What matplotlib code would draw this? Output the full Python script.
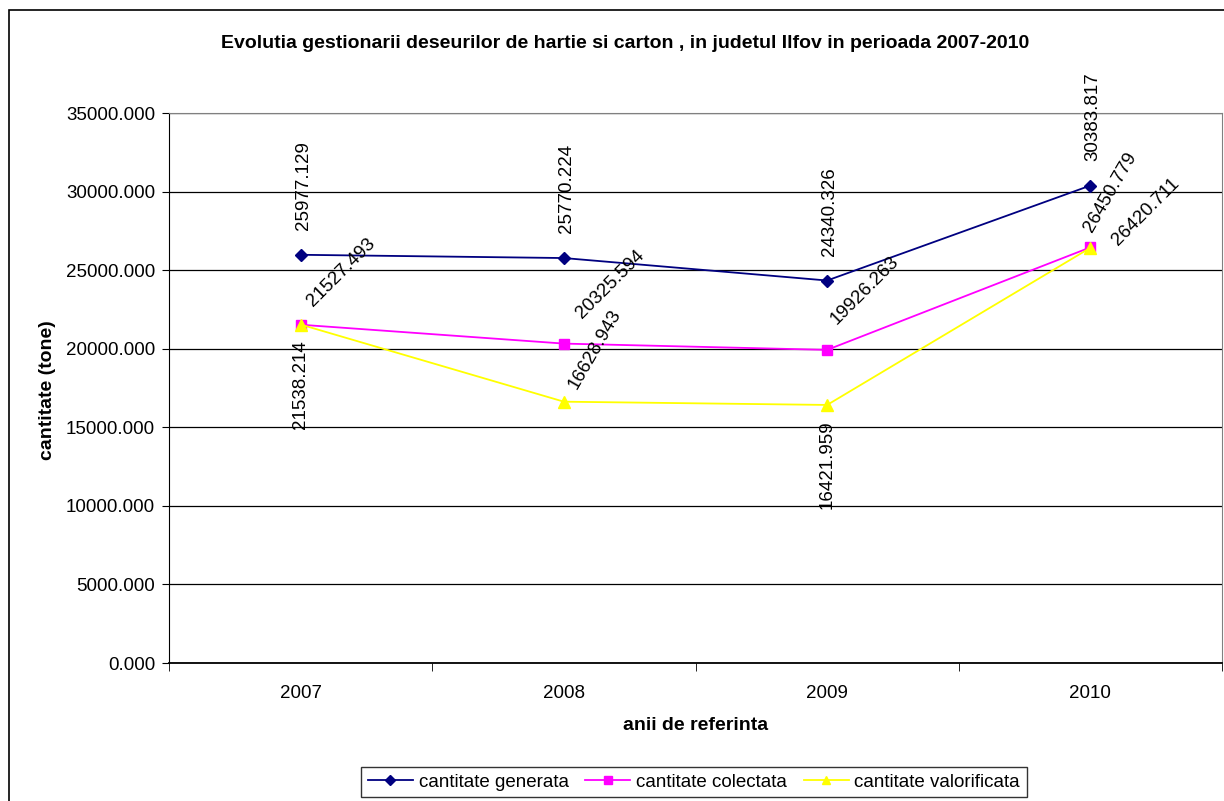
import matplotlib.pyplot as plt
import matplotlib.patches as patches
import numpy as np

plt.rcParams['font.family'] = ['Liberation Sans', 'DejaVu Sans']

ani = ['2007', '2008', '2009', '2010']
generata = [25977.129, 25770.224, 24340.326, 30383.817]
colectata = [21527.493, 20325.594, 19926.263, 26450.779]
valorificata = [21538.214, 16628.943, 16421.959, 26420.711]

fig = plt.figure(figsize=(12.24, 8.01), dpi=100)
ax = fig.add_axes([169/1224, 1 - 663/801, (1222 - 169)/1224, (663 - 113)/801])

x = np.arange(len(ani))
ax.plot(x, generata, color='#000080', marker='D', markersize=6, lw=1.3, label='cantitate generata', zorder=3)
ax.plot(x, colectata, color='#FF00FF', marker='s', markersize=7, lw=1.3, label='cantitate colectata', zorder=3)
ax.plot(x, valorificata, color='#FFFF00', marker='^', markersize=8, lw=1.3, label='cantitate valorificata', zorder=4)

fs = 13.5
ax.set_xlim(-0.5, 3.5)
ax.set_ylim(0, 35000)
ax.set_yticks(np.arange(0, 35001, 5000))
ax.set_yticklabels(['%.3f' % v for v in np.arange(0, 35001, 5000)], fontsize=fs)
ax.set_xticks(x)
ax.set_xticklabels(ani, fontsize=fs)
ax.set_xticks(np.arange(-0.5, 3.6, 1), minor=True)
ax.tick_params(axis='x', which='major', length=0, pad=16)
ax.tick_params(axis='x', which='minor', length=6, color='black')
ax.tick_params(axis='y', length=5, color='black', pad=5)
ax.grid(axis='y', color='black', lw=0.9)
ax.set_axisbelow(True)
for s in ['top', 'right']:
    ax.spines[s].set_color('#808080')
ax.spines['left'].set_color('black')
ax.spines['bottom'].set_color('black')
ax.spines['bottom'].set_linewidth(1.3)

# data labels - generata (vertical, above)
for i, v in enumerate(generata):
    ax.annotate('%.3f' % v, (i, v), xytext=(2, 18), textcoords='offset points',
                rotation=90, ha='center', va='bottom', fontsize=fs)

# colectata labels (tilted)
col_off = [(11, 11, 45), (15, 16, 45), (9, 16, 45), (4, 9, 60)]
for i, v in enumerate(colectata):
    dx, dy, rot = col_off[i]
    ax.annotate('%.3f' % v, (i, v), xytext=(dx, dy), textcoords='offset points',
                rotation=rot, rotation_mode='anchor', ha='left', va='bottom', fontsize=fs)

# valorificata labels
val_off = [(0, -11, 90, 'below'), (12, 7, 60, 'tilt'), (0, -11, 90, 'below'), (22, -1, 45, 'tilt')]
for i, v in enumerate(valorificata):
    dx, dy, rot, kind = val_off[i]
    if kind == 'below':
        ax.annotate('%.3f' % v, (i, v), xytext=(dx, dy), textcoords='offset points',
                    rotation=90, ha='center', va='top', fontsize=fs)
    else:
        ax.annotate('%.3f' % v, (i, v), xytext=(dx, dy), textcoords='offset points',
                    rotation=rot, rotation_mode='anchor', ha='left', va='bottom', fontsize=fs)

fig.text(625/1224, 1 - 43/801, 'Evolutia gestionarii deseurilor de hartie si carton , in judetul Ilfov in perioada 2007-2010',
         ha='center', va='center', fontsize=14, fontweight='bold')
fig.text(47/1224, 1 - 390/801, 'cantitate (tone)', rotation=90, ha='center', va='center',
         fontsize=14, fontweight='bold')
fig.text(696/1224, 1 - 726/801, 'anii de referinta', ha='center', va='center',
         fontsize=14, fontweight='bold')

leg = fig.legend(loc='center', bbox_to_anchor=(694/1224, 1 - 782/801), ncol=3, fontsize=fs,
                 frameon=True, fancybox=False, edgecolor='black', handlelength=2.4,
                 handletextpad=0.3, columnspacing=0.9, borderpad=0.35, markerscale=0.8)
leg.get_frame().set_linewidth(1.0)

# outer chart border
border = patches.Rectangle((9/1224, -0.02), 1.02, 1 - 10/801 + 0.02, transform=fig.transFigure,
                           fill=False, edgecolor='black', lw=1.2, clip_on=False)
fig.patches.append(border)

fig.savefig('out.png', dpi=100)
